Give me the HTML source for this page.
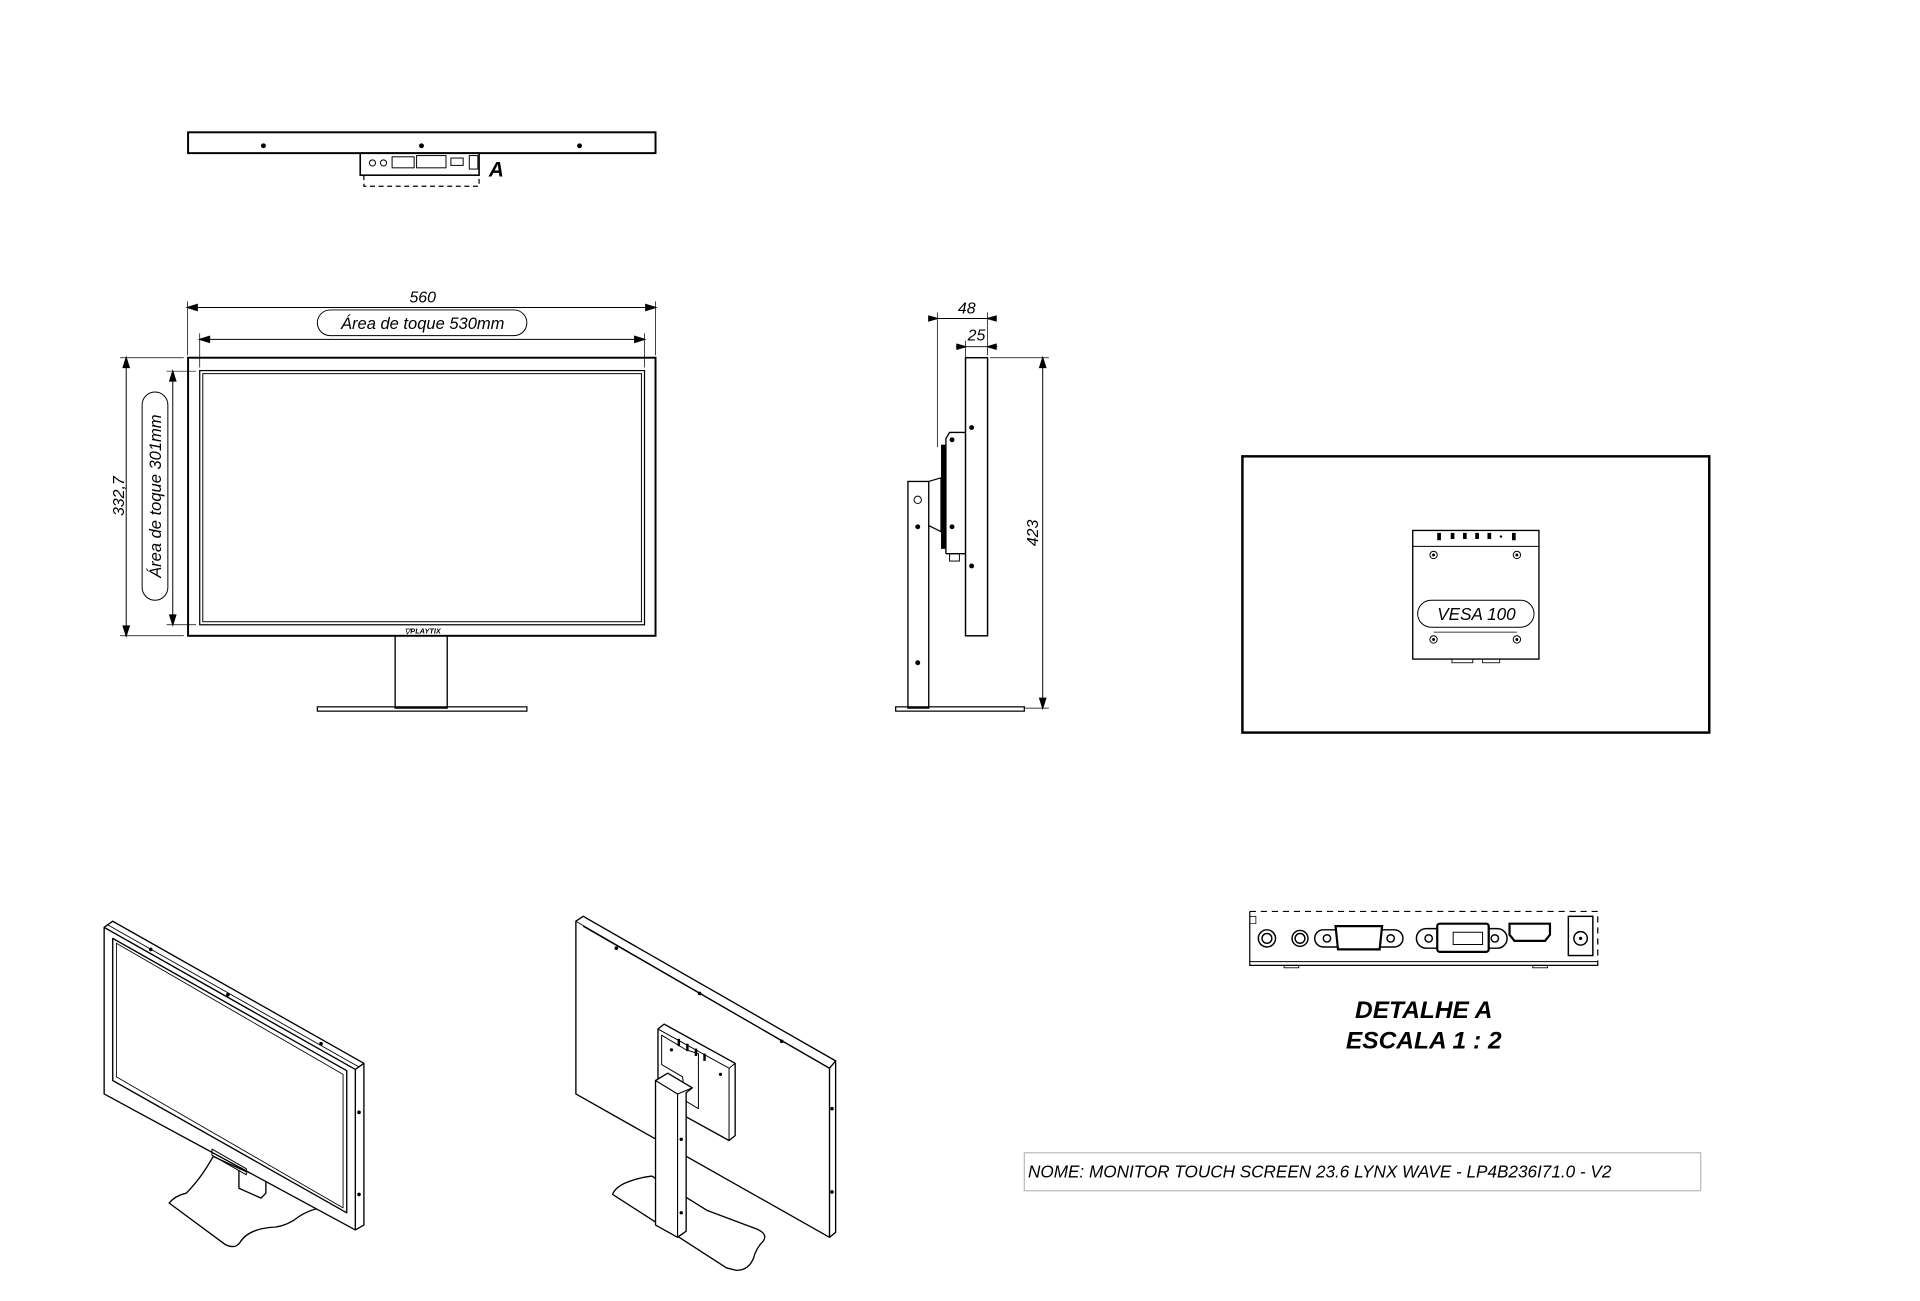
<!DOCTYPE html>
<html><head><meta charset="utf-8"><style>
html,body{margin:0;padding:0;background:#fff;width:1920px;height:1301px;overflow:hidden}
svg{display:block}
text{font-family:"Liberation Sans",sans-serif;font-style:italic;fill:#000}
</style></head><body>
<svg width="1920" height="1301" viewBox="0 0 1567 1062" preserveAspectRatio="none" xmlns="http://www.w3.org/2000/svg" fill="none" stroke="#000" stroke-width="1">
<!-- TOP VIEW -->
<rect x="153.5" y="108" width="381.5" height="17" stroke-width="1.6"/>
<g fill="#000" stroke="none"><circle cx="215" cy="119" r="2"/><circle cx="344" cy="119" r="2"/><circle cx="473" cy="119" r="2"/></g>
<rect x="294" y="125" width="97" height="18" stroke-width="1.3"/>
<g stroke-width="0.8">
<circle cx="304" cy="133" r="2.5"/><circle cx="313" cy="133" r="2.5"/>
<rect x="320" y="128" width="18" height="9"/><rect x="340" y="127" width="24" height="10"/>
<rect x="368" y="129" width="10" height="6"/><rect x="383" y="127" width="7" height="11"/>
</g>
<path d="M297 143 V152 H391 V143" stroke-dasharray="4 3"/>
<text x="399" y="144" font-size="17" font-weight="bold" stroke="none">A</text>

<!-- FRONT VIEW -->
<line x1="153" y1="251" x2="535" y2="251" stroke-width="0.8"/>
<path d="M153 251 l8 -2.5 v5z M535 251 l-8 -2.5 v5z" fill="#000"/>
<line x1="153" y1="246" x2="153" y2="290" stroke-width="0.6"/><line x1="535" y1="246" x2="535" y2="290" stroke-width="0.6"/>
<text x="345" y="247" font-size="13" text-anchor="middle" stroke="none">560</text>
<rect x="259" y="253" width="171" height="21" rx="10.5" stroke-width="0.8"/>
<text x="345" y="268.5" font-size="13.5" text-anchor="middle" stroke="none">Área de toque 530mm</text>
<line x1="163" y1="277" x2="526" y2="277" stroke-width="0.8"/>
<path d="M163 277 l8 -2.5 v5z M526 277 l-8 -2.5 v5z" fill="#000"/>
<line x1="163" y1="272" x2="163" y2="300" stroke-width="0.6"/><line x1="526" y1="272" x2="526" y2="300" stroke-width="0.6"/>

<line x1="103" y1="292" x2="103" y2="519" stroke-width="0.8"/>
<path d="M103 292 l-2.5 8 h5z M103 519 l-2.5 -8 h5z" fill="#000"/>
<line x1="98" y1="292" x2="150" y2="292" stroke-width="0.6"/><line x1="98" y1="519" x2="150" y2="519" stroke-width="0.6"/>
<text transform="translate(101 405) rotate(-90)" font-size="13" text-anchor="middle" stroke="none">332,7</text>
<rect x="116" y="320" width="21" height="170" rx="10.5" stroke-width="0.8"/>
<text transform="translate(131.5 405) rotate(-90)" font-size="13.5" text-anchor="middle" stroke="none">Área de toque 301mm</text>
<line x1="141" y1="303" x2="141" y2="510" stroke-width="0.8"/>
<path d="M141 303 l-2.5 8 h5z M141 510 l-2.5 -8 h5z" fill="#000"/>
<line x1="136" y1="303" x2="160" y2="303" stroke-width="0.6"/><line x1="136" y1="510" x2="160" y2="510" stroke-width="0.6"/>

<rect x="153.5" y="292" width="381.5" height="227" stroke-width="1.6"/>
<rect x="163" y="302.5" width="363" height="207.5" stroke-width="1"/>
<rect x="165.5" y="305" width="358" height="202.5" stroke-width="0.8"/>
<text x="345" y="517" font-size="6" font-weight="bold" text-anchor="middle" stroke="none" font-style="normal">▽PLAYTIX</text>
<rect x="322.5" y="519" width="42.5" height="59" stroke-width="1.1"/>
<rect x="259" y="577" width="171" height="3.5" stroke-width="1"/>

<!-- SIDE VIEW -->
<line x1="765" y1="260" x2="806" y2="260" stroke-width="0.8"/>
<path d="M765 260 l-7 -2 v4z M806 260 l7 -2 v4z" fill="#000"/>
<text x="789" y="256" font-size="13" text-anchor="middle" stroke="none">48</text>
<line x1="765" y1="255" x2="765" y2="365" stroke-width="0.6"/>
<line x1="806" y1="255" x2="806" y2="290" stroke-width="0.6"/>
<line x1="780" y1="283" x2="814" y2="283" stroke-width="0.8"/>
<path d="M788 283 l-7 -2 v4z M806 283 l7 -2 v4z" fill="#000"/>
<text x="797" y="278" font-size="13" text-anchor="middle" stroke="none">25</text>
<line x1="788" y1="278" x2="788" y2="292" stroke-width="0.6"/>
<line x1="851" y1="292" x2="851" y2="578" stroke-width="0.8"/>
<path d="M851 292 l-2.5 8 h5z M851 578 l-2.5 -8 h5z" fill="#000"/>
<line x1="808" y1="292" x2="856" y2="292" stroke-width="0.6"/><line x1="836" y1="578" x2="856" y2="578" stroke-width="0.6"/>
<text transform="translate(847 435) rotate(-90)" font-size="13" text-anchor="middle" stroke="none">423</text>
<rect x="788" y="292" width="18" height="227" stroke-width="1.2"/>
<g fill="#000" stroke="none"><circle cx="793" cy="349" r="2"/><circle cx="793" cy="462" r="2"/><circle cx="777" cy="359" r="2"/><circle cx="777" cy="430" r="2"/><circle cx="749" cy="430" r="2"/><circle cx="749" cy="541" r="2"/></g>
<path d="M772 452 V358 l3 -5 h13 M772 452 h16" stroke-width="1.1"/>
<rect x="768" y="363" width="4" height="85" fill="#000" stroke="none"/>
<rect x="775" y="452" width="8" height="6" stroke-width="0.8"/>
<rect x="741" y="393" width="17" height="185" stroke-width="1.1"/>
<path d="M758 393 l10 -3 v44 l-10 -5" stroke-width="1"/>
<circle cx="749" cy="408" r="3" stroke-width="0.8"/>
<rect x="731" y="577" width="105" height="3.5" stroke-width="1"/>

<!-- VESA VIEW -->
<rect x="1014" y="372.5" width="381" height="225.5" stroke-width="2"/>
<rect x="1153" y="433" width="103" height="105" stroke-width="1.1"/>
<line x1="1153" y1="446" x2="1256" y2="446" stroke-width="0.8"/>
<g fill="#000" stroke="none"><rect x="1173" y="435" width="3" height="6"/><rect x="1184" y="435" width="3" height="5"/><rect x="1194" y="435" width="3" height="5"/><rect x="1204" y="435" width="3" height="5"/><rect x="1214" y="435" width="3" height="5"/><circle cx="1225" cy="438" r="1"/><rect x="1234" y="435" width="3" height="6"/></g>
<g stroke-width="0.8"><circle cx="1170" cy="453" r="3"/><circle cx="1238" cy="453" r="3"/><circle cx="1170" cy="522" r="3"/><circle cx="1238" cy="522" r="3"/></g>
<g fill="#000" stroke="none"><circle cx="1170" cy="453" r="1.2"/><circle cx="1238" cy="453" r="1.2"/><circle cx="1170" cy="522" r="1.2"/><circle cx="1238" cy="522" r="1.2"/></g>
<rect x="1157" y="490" width="95" height="22" rx="11" stroke-width="0.8"/>
<text x="1205" y="506" font-size="14" text-anchor="middle" stroke="none">VESA 100</text>
<line x1="1170" y1="516" x2="1238" y2="516" stroke-width="0.7"/>
<rect x="1185" y="538" width="17" height="3" stroke-width="0.7"/><rect x="1210" y="538" width="14" height="3" stroke-width="0.7"/>

<!-- DETAIL A -->
<path d="M1020 744 H1304 V785" stroke-dasharray="5 4"/>
<path d="M1020 744 V788 H1304 V785" stroke-width="1"/>
<line x1="1020" y1="785" x2="1304" y2="785" stroke-width="0.8"/>
<path d="M1020 748 h5 v6 h-5" stroke-width="0.6"/>
<rect x="1048" y="788" width="12" height="2" stroke-width="0.7"/><rect x="1251" y="788" width="12" height="2" stroke-width="0.7"/>
<g stroke-width="1.2">
<circle cx="1034" cy="766" r="7"/><circle cx="1034" cy="766" r="4"/>
<circle cx="1061" cy="766" r="6.5"/><circle cx="1061" cy="766" r="4"/>
<path d="M1080 759 h58 a7 7 0 0 1 0 14 h-58 a7 7 0 0 1 0 -14z"/>
<path d="M1090 756 h38 l-2 19 h-34z" fill="#fff" stroke-width="1.8"/>
<circle cx="1083" cy="766" r="3"/><circle cx="1135" cy="766" r="3"/>
<path d="M1164 758 h58 a8 8 0 0 1 0 16 h-58 a8 8 0 0 1 0 -16z"/>
<rect x="1173" y="754" width="42" height="23" rx="2" fill="#fff" stroke-width="1.8"/>
<circle cx="1166" cy="766" r="3"/><circle cx="1220" cy="766" r="3"/>
<rect x="1186" y="761" width="24" height="10" stroke-width="0.8"/>
<path d="M1232 754 h33 v9 l-4 5 h-25 l-4 -5z" stroke-width="1.8"/>
<rect x="1280" y="748" width="20" height="32"/><circle cx="1290" cy="766" r="5.5"/>
</g>
<g fill="#000" stroke="none"><circle cx="1290" cy="766" r="1.3"/></g>
<text x="1162" y="831" font-size="20" font-weight="bold" text-anchor="middle" stroke="none">DETALHE A</text>
<text x="1162" y="856" font-size="20" font-weight="bold" text-anchor="middle" stroke="none">ESCALA 1 : 2</text>

<!-- NAME BOX -->
<rect x="836" y="941" width="552" height="31" stroke="#bbb" stroke-width="1"/>
<text x="839" y="961" font-size="14" stroke="none">NOME: MONITOR TOUCH SCREEN 23.6 LYNX WAVE - LP4B236I71.0 - V2</text>

<!-- ISO LEFT -->
<g stroke-width="1.1" stroke-linejoin="round">
<path d="M138 982 q5 -6 14 -8 q12 -12 22 -30 l26 12 l62 30 q-12 2 -22 10 q-10 6 -20 6 q-18 2 -24 12 q-4 6 -12 2z" fill="#fff"/>
<path d="M195 955 v15 l18 8 l4 -4 v-12" fill="#fff"/>
<path d="M85 757 L92 752 L297 868 L297 1000 L290 1004 L85 893Z" fill="#fff"/>
<path d="M85 757 L290 873 L290 1004 M290 873 L297 868"/>
<path d="M92 766 L283 874 L283 990 L92 882Z"/>
<path d="M95 770 L280 877 L280 986 L95 879Z" stroke-width="0.7"/>
<path d="M88 755 L293 871" stroke-width="0.7"/>
<path d="M173 938 l28 16 v5 l-28 -16z" stroke-width="0.8"/>
</g>
<g fill="#000" stroke="none"><circle cx="123" cy="775" r="1.5"/><circle cx="186" cy="812" r="1.5"/><circle cx="262" cy="852" r="1.5"/><circle cx="293" cy="908" r="1.5"/><circle cx="293" cy="975" r="1.5"/></g>

<!-- ISO RIGHT -->
<g stroke-width="1.1" stroke-linejoin="round">
<path d="M470 752 L476 748 L682 866 L682 1006 L677 1010 L470 893Z" fill="#fff"/>
<path d="M476 756 L677 872 L677 1010 M677 872 L682 866" />
<path d="M470 752 L677 872" stroke-width="0.7"/>
<path d="M500 975 q2 -6 12 -10 q10 -4 20 -5 l45 28 l40 15 q10 4 6 10 q-6 6 -8 14 q-4 10 -14 10 l-8 -2z" fill="#fff"/>
<path d="M537 840 L542 836 L600 868 L600 927 L595 931 L537 899Z" fill="#fff"/>
<path d="M537 840 L595 872 L595 931 M595 872 L600 868" stroke-width="0.8"/>
<path d="M540 845 l20 12 l10 3 v45 l-10 -6 l-3 -20 l-17 -10z" stroke-width="0.8"/>
<path d="M535 882 L545 876 L565 888 L560 892 L560 1005 L553 1010 L535 1000Z" fill="#fff"/>
<path d="M535 882 L553 893 L553 1010 M553 893 L565 888" stroke-width="0.9"/>
</g>
<g fill="#000" stroke="none"><circle cx="503" cy="774" r="1.5"/><circle cx="571" cy="811" r="1.5"/><circle cx="638" cy="850" r="1.5"/><circle cx="679" cy="905" r="1.5"/><circle cx="679" cy="973" r="1.5"/><circle cx="556" cy="930" r="1.4"/><circle cx="556" cy="990" r="1.4"/><circle cx="548" cy="857" r="1.3"/><circle cx="588" cy="877" r="1.3"/><rect x="553" y="848" width="2" height="6"/><rect x="560" y="852" width="2" height="6"/><rect x="567" y="856" width="2" height="6"/><rect x="574" y="860" width="2" height="6"/></g>
</svg>
</body></html>
